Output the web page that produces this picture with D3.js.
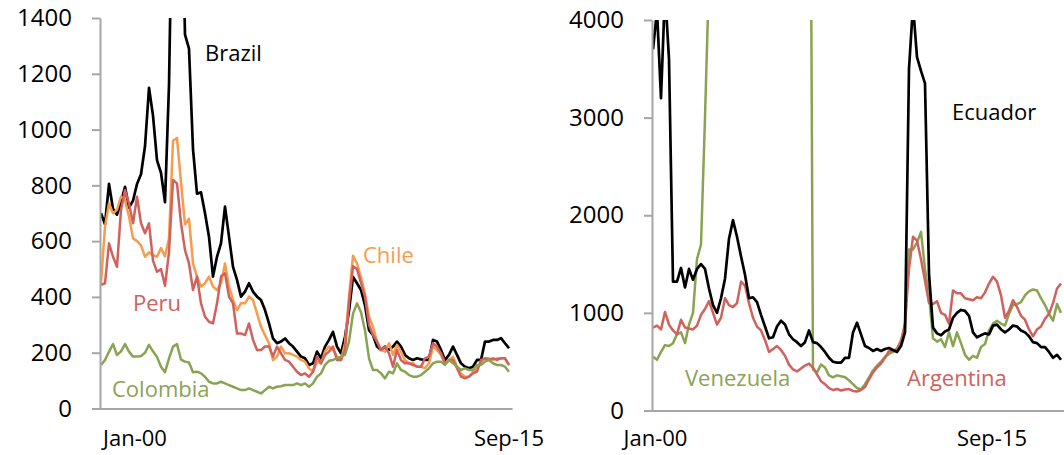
<!DOCTYPE html>
<html><head><meta charset="utf-8">
<script src="https://cdn.jsdelivr.net/npm/d3@7"></script>
<style>
html,body{margin:0;padding:0;background:#fff;}
svg{display:block;font-family:"Open Sans",sans-serif;}
</style>
</head><body>
<svg id="c" width="1064" height="455"></svg>
<script>
// ---- Data (sampled at equal steps from Jan-00 onward) ----
const xTickLabels = ["Jan-00", "Sep-15"];
const leftTicks = [0, 200, 400, 600, 800, 1000, 1200, 1400];
const rightTicks = [0, 1000, 2000, 3000, 4000];

const brazil = [700,660,805,715,695,740,795,720,745,805,840,940,1150,1050,890,845,740,1160,2000,2300,2000,1340,1290,930,770,775,700,616,473,544,592,724,616,508,461,401,419,449,419,401,389,353,305,251,234,240,251,234,222,204,186,180,
156,162,204,180,222,246,275,222,198,257,350,472,449,425,370,281,263,222,210,222,210,222,240,222,192,180,174,180,176,174,174,246,240,210,174,192,222,192,162,150,144,150,174,174,240,240,246,246,252,234,216];
const chile = [449,652,735,700,712,760,747,688,610,600,585,544,560,550,544,575,545,610,960,970,810,660,680,520,473,437,449,473,437,425,449,520,437,389,353,377,377,401,389,341,293,263,234,174,186,222,198,198,192,186,174,168,
144,132,168,162,204,222,210,186,174,234,400,548,520,470,410,330,293,240,210,204,234,192,228,204,174,162,162,150,150,144,162,222,210,192,162,174,186,150,126,114,114,132,144,162,180,180,174,180,180,180,156];
const peru = [443,449,592,544,508,712,783,735,664,759,664,628,664,530,490,500,440,560,819,807,664,568,520,425,473,377,329,311,305,377,473,485,401,377,269,269,263,305,246,210,210,222,222,186,222,198,174,168,150,132,120,126,
114,132,186,162,192,204,222,174,174,210,380,510,500,450,400,300,263,240,210,222,198,150,210,174,162,162,156,150,150,180,186,234,222,198,162,174,174,144,114,108,114,126,132,174,180,174,180,174,180,180,156];
const colombia = [156,174,204,231,192,205,231,204,186,186,188,200,228,205,185,150,130,180,222,231,175,168,165,130,132,126,114,96,90,90,96,90,84,78,72,66,66,72,66,60,54,66,78,72,78,80,84,84,84,90,84,90,
78,90,114,126,156,171,174,180,186,192,240,340,377,345,280,180,138,138,126,108,132,126,162,138,132,120,114,114,120,132,144,162,168,168,156,174,162,150,138,144,138,138,156,156,168,174,162,156,156,150,132];

const ecuador = [3700,4100,3200,4300,3600,1320,1320,1460,1260,1450,1340,1450,1500,1450,1250,1080,1000,1150,1350,1760,1950,1780,1580,1390,1150,1160,1110,980,860,740,750,860,920,880,780,730,700,660,700,820,700,690,650,600,540,500,490,490,540,540,800,900,
780,660,640,610,630,610,630,640,620,600,660,800,3500,4150,3620,3480,3350,1400,850,790,770,810,830,950,1000,1030,1020,970,800,750,770,790,780,870,880,830,800,830,870,860,820,800,760,700,690,650,650,600,540,570,520];
const venezuela = [550,520,600,670,660,690,780,800,690,880,1000,1550,1700,3000,4450,5200,5600,5900,6100,6300,6000,5800,6200,6400,6600,6500,6300,6100,6000,6200,6400,6700,6900,7100,7300,7600,7800,8200,8600,9000,420,390,470,440,360,340,360,350,340,310,270,230,
215,270,340,410,460,500,550,580,600,630,720,850,1650,1650,1720,1830,1450,1180,740,705,730,650,800,660,800,690,570,520,560,540,650,680,820,890,920,890,870,990,1080,1090,1110,1180,1220,1240,1230,1150,1080,990,920,1090,1000];
const argentina = [850,870,830,1010,880,820,780,930,850,840,830,870,980,1040,1120,1000,880,950,1150,1080,1060,1100,1320,1280,1100,950,860,820,720,600,630,660,620,560,470,420,400,430,460,480,440,370,300,270,230,210,220,205,215,220,200,195,
210,240,320,390,440,480,540,610,610,630,700,900,1450,1780,1740,1550,1330,1100,1090,1120,1000,980,890,1230,1200,1200,1150,1140,1130,1160,1150,1210,1300,1370,1320,1180,950,1020,1130,1060,970,930,830,760,830,860,940,990,1100,1250,1300];

const C = {black:"#000000", orange:"#F79B4E", red:"#D0615C", green:"#8AA353", axis:"#A6A6A6"};

const svg = d3.select("#c");

function panel(cfg){
  const g = svg.append("g");
  const n = cfg.series[0].values.length;
  const x = d3.scaleLinear().domain([0, n-1]).range([cfg.x0+1, cfg.x1-3]);
  const y = d3.scaleLinear().domain([0, cfg.ymax]).range([cfg.yb, cfg.yt]);

  const clipId = "clip" + cfg.id;
  svg.append("clipPath").attr("id", clipId).append("rect")
    .attr("x", cfg.x0).attr("y", cfg.yt).attr("width", cfg.x1 - cfg.x0 + 2).attr("height", cfg.yb - cfg.yt + 2);

  const line = d3.line().x((d,i)=>x(i)).y(d=>y(d));
  const lg = g.append("g").attr("clip-path", `url(#${clipId})`);
  cfg.series.forEach(s=>{
    lg.append("path").datum(s.values).attr("d", line)
      .attr("fill","none").attr("stroke", s.color).attr("stroke-width", s.color === C.black ? 2.7 : 2.5)
      .attr("stroke-linejoin","round");
  });

  // y axis
  const ya = g.append("g").attr("transform", `translate(${cfg.x0},0)`)
    .call(d3.axisLeft(y).tickValues(cfg.ticks).tickSize(8).tickSizeOuter(0).tickPadding(20).tickFormat(d3.format("d")));
  ya.select(".domain").attr("stroke", C.axis).attr("stroke-width", 2);
  ya.selectAll(".tick line").attr("stroke", C.axis).attr("stroke-width", 2);
  ya.selectAll(".tick text").attr("fill","#000").style("font-size","24px").style("font-family",'"Open Sans",sans-serif');

  // x axis (line only)
  const xa = g.append("g").attr("transform", `translate(0,${cfg.yb})`)
    .call(d3.axisBottom(d3.scaleLinear().domain([0,1]).range([cfg.x0-1, cfg.x1])).tickValues([]).tickSizeOuter(0));
  xa.select(".domain").attr("stroke", C.axis).attr("stroke-width", 2);

  // x labels
  cfg.xlabels.forEach((lb,k)=>{
    g.append("text").attr("x", lb.x).attr("y", 446).attr("text-anchor", lb.anchor)
      .style("font-size","22px").attr("fill","#000").text(xTickLabels[k]);
  });

  // series labels
  cfg.series.forEach(s=>{
    g.append("text").attr("x", s.lx).attr("y", s.ly).style("font-size","22px")
      .attr("fill", s.color).text(s.name);
  });
}

panel({
  id:"L", x0:100, x1:512, yb:408.5, yt:18, ymax:1400, ticks:leftTicks,
  xlabels:[{x:103, anchor:"start"}, {x:509, anchor:"middle"}],
  series:[
    {name:"Brazil", values:brazil, color:C.black, lx:205, ly:61},
    {name:"Chile", values:chile, color:C.orange, lx:363, ly:263},
    {name:"Peru", values:peru, color:C.red, lx:133, ly:311},
    {name:"Colombia", values:colombia, color:C.green, lx:112, ly:397}
  ]
});

panel({
  id:"R", x0:652, x1:1064, yb:410.5, yt:20, ymax:4000, ticks:rightTicks,
  xlabels:[{x:655.5, anchor:"middle"}, {x:992, anchor:"middle"}],
  series:[
    {name:"Venezuela", values:venezuela, color:C.green, lx:685, ly:386},
    {name:"Argentina", values:argentina, color:C.red, lx:907, ly:386},
    {name:"Ecuador", values:ecuador, color:C.black, lx:952, ly:120}
  ]
});
</script>
</body></html>
